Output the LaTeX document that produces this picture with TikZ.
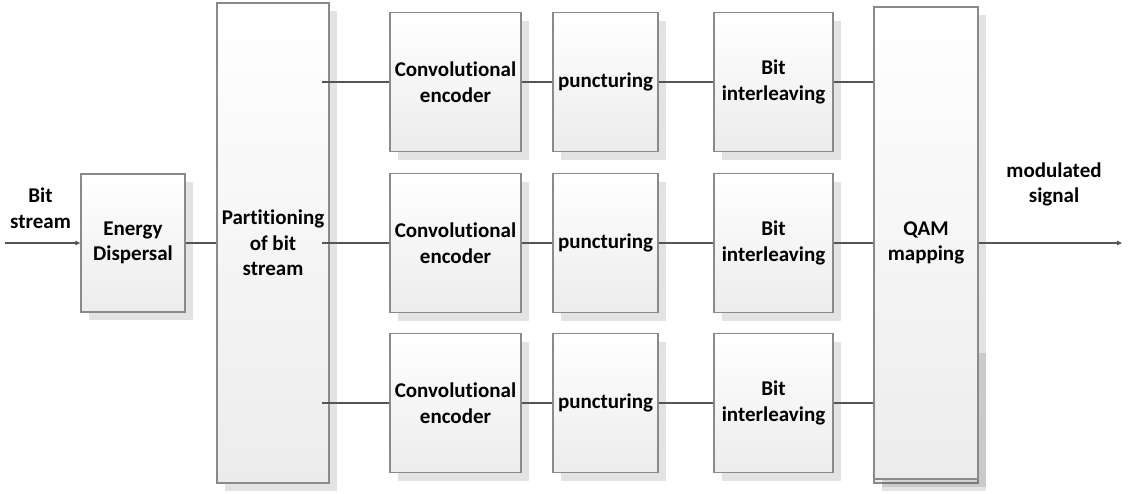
\documentclass[tikz,border=0pt]{standalone}
\usepackage{fontspec}
\setmainfont[Ligatures={NoCommon}]{Carlito}
\usetikzlibrary{arrows.meta,shadows}
\definecolor{boxline}{HTML}{8A8A8A}
\definecolor{boxbot}{HTML}{ECECEC}
\definecolor{wire}{HTML}{555555}
\tikzset{
  blk/.style={draw=boxline, line width=1.3pt, top color=white, bottom color=boxbot,
    align=center, inner sep=0pt, font=\bfseries\fontsize{21}{25.5}\selectfont,
    drop shadow={shadow xshift=8pt, shadow yshift=-8pt, fill=black, opacity=0.11}},
  lbl/.style={align=center, inner sep=0pt, font=\bfseries\fontsize{21}{25.5}\selectfont},
  wireline/.style={draw=wire, line width=1.2pt},
  sig/.style={wireline, -{Triangle[length=5pt,width=4.5pt]}}
}
\begin{document}
\begin{tikzpicture}[x=1pt, y=-1pt]
\useasboundingbox (0,0) rectangle (1131,493);

% front-end blocks
\node[blk, minimum width=104pt, minimum height=138pt] (ed) at (133,243) {Energy\\Dispersal};
\node[blk, minimum width=112pt, minimum height=480pt] (part) at (273,243) {Partitioning\\of bit\\stream};

% three coding branches
\foreach \r/\y in {1/82, 2/243, 3/403}{
  \node[blk, minimum width=131pt, minimum height=139pt] (conv\r) at (455.5,\y) {Convolutional\\encoder};
  \node[blk, minimum width=105pt, minimum height=139pt] (punc\r) at (605.5,\y) {puncturing};
  \node[blk, minimum width=119pt, minimum height=139pt] (intl\r) at (773.5,\y) {Bit\\interleaving};
}

% mapper (two stacked frames)
\node[blk, minimum width=104pt, minimum height=138pt] (qamb) at (926,414) {};
\node[blk, minimum width=104pt, minimum height=472pt] (qam) at (926,243) {QAM\\mapping};

% outer labels
\node[lbl] (inlbl) at (40.5,208) {Bit\\stream};
\node[lbl] (outlbl) at (1054,184.5) {modulated\\signal};

% free ends of the signal path
\coordinate (src) at (5,243);
\coordinate (dst) at (1122,243);
\coordinate (b1) at (322,82);
\coordinate (b2) at (322,243);
\coordinate (b3) at (322,403);

% connectors
\draw[sig] (src) -- (ed.west);
\draw[wireline] (ed.east) -- (part.west |- ed.east);
\foreach \r in {1,2,3}{
  \draw[wireline] (b\r) -- (conv\r.west);
  \draw[wireline] (conv\r.east) -- (punc\r.west);
  \draw[wireline] (punc\r.east) -- (intl\r.west);
  \draw[wireline] (intl\r.east) -- (qam.west |- intl\r.east);
}
\draw[sig] (qam.east |- dst) -- (dst);
\end{tikzpicture}
\end{document}
